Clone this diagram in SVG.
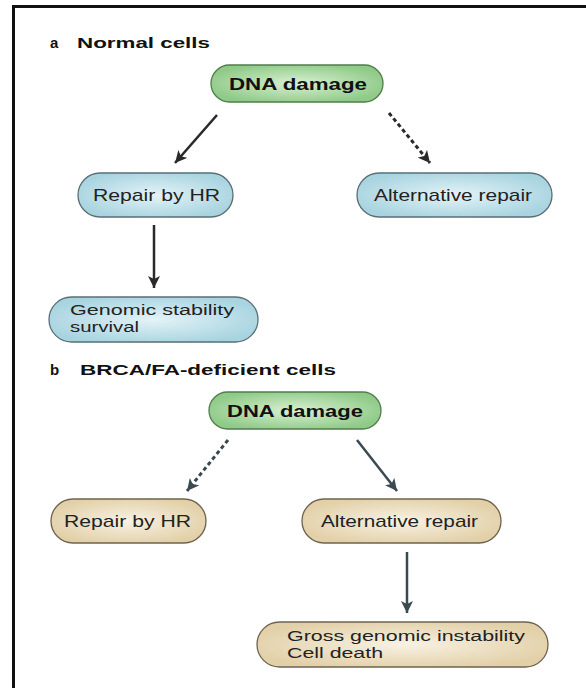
<svg xmlns="http://www.w3.org/2000/svg" width="586" height="688" viewBox="0 0 586 688">
<defs>
<radialGradient id="gGreen" cx="50%" cy="50%" r="55%">
<stop offset="0" stop-color="#d9f0d2"/><stop offset="1" stop-color="#8fca88"/>
</radialGradient>
<radialGradient id="gBlue" cx="50%" cy="50%" r="55%">
<stop offset="0" stop-color="#e4f3f7"/><stop offset="1" stop-color="#a8d4e0"/>
</radialGradient>
<radialGradient id="gTan" cx="50%" cy="50%" r="55%">
<stop offset="0" stop-color="#f8f2e4"/><stop offset="1" stop-color="#e2d0a8"/>
</radialGradient>
<marker id="ahA" markerUnits="userSpaceOnUse" markerWidth="14" markerHeight="12" refX="12" refY="6" orient="auto">
<path d="M0,0 L12,6 L0,12 L3,6 z" fill="#2a2a2a"/>
</marker>
<marker id="ahB" markerUnits="userSpaceOnUse" markerWidth="14" markerHeight="12" refX="12" refY="6" orient="auto">
<path d="M0,0 L12,6 L0,12 L3,6 z" fill="#3b4a51"/>
</marker>
</defs>
<style>
.title{font-family:"Liberation Sans",Arial,sans-serif;font-weight:bold;font-size:15px;fill:#111}
.dna{font-family:"Liberation Sans",Arial,sans-serif;font-weight:bold;font-size:16px;fill:#111}
.lbl{font-family:"Liberation Sans",Arial,sans-serif;font-size:17px;fill:#222}
.lbl2{font-family:"Liberation Sans",Arial,sans-serif;font-size:15.5px;fill:#222}
.green{fill:url(#gGreen);stroke:#4f7d4b;stroke-width:1.3}
.blue{fill:url(#gBlue);stroke:#5b6e75;stroke-width:1.3}
.tan{fill:url(#gTan);stroke:#6e6350;stroke-width:1.3}
.arA{stroke:#2a2a2a;stroke-width:2.5;fill:none;marker-end:url(#ahA)}
.arB{stroke:#3b4a51;stroke-width:2.5;fill:none;marker-end:url(#ahB)}
.dash{stroke-dasharray:4 3;stroke-width:3}
</style>
<rect x="0" y="0" width="586" height="688" fill="#ffffff"/>
<rect x="13.5" y="6.5" width="600" height="700" fill="none" stroke="#111" stroke-width="3"/>

<g id="title-a">
<text class="title" x="50" y="48">a</text>
<text class="title" x="77" y="48" textLength="133" lengthAdjust="spacingAndGlyphs">Normal cells</text>
</g>
<g id="title-b">
<text class="title" x="50" y="375">b</text>
<text class="title" x="80" y="375" textLength="256" lengthAdjust="spacingAndGlyphs">BRCA/FA-deficient cells</text>
</g>

<g id="a-dna">
<rect class="green" x="211" y="65" width="172" height="37" rx="18.5"/>
<text class="dna" x="229" y="90" textLength="138" lengthAdjust="spacingAndGlyphs">DNA damage</text>
</g>
<g id="a-hr">
<rect class="blue" x="78" y="173" width="155" height="44" rx="22"/>
<text class="lbl" x="93" y="201" textLength="127" lengthAdjust="spacingAndGlyphs">Repair by HR</text>
</g>
<g id="a-alt">
<rect class="blue" x="357" y="173" width="195" height="44" rx="22"/>
<text class="lbl" x="374" y="201" textLength="158" lengthAdjust="spacingAndGlyphs">Alternative repair</text>
</g>
<g id="a-genomic">
<rect class="blue" x="49" y="297" width="209" height="45" rx="22.5"/>
<text class="lbl2" x="70" y="315" textLength="164" lengthAdjust="spacingAndGlyphs">Genomic stability</text>
<text class="lbl2" x="70" y="332" textLength="69" lengthAdjust="spacingAndGlyphs">survival</text>
</g>

<g id="b-dna">
<rect class="green" x="209" y="392" width="172" height="37" rx="18.5"/>
<text class="dna" x="227" y="417" textLength="136" lengthAdjust="spacingAndGlyphs">DNA damage</text>
</g>
<g id="b-hr">
<rect class="tan" x="51" y="499" width="155" height="44" rx="22"/>
<text class="lbl" x="64" y="527" textLength="127" lengthAdjust="spacingAndGlyphs">Repair by HR</text>
</g>
<g id="b-alt">
<rect class="tan" x="302" y="499" width="199" height="44" rx="22"/>
<text class="lbl" x="321" y="527" textLength="157" lengthAdjust="spacingAndGlyphs">Alternative repair</text>
</g>
<g id="b-gross">
<rect class="tan" x="257" y="622" width="291" height="45" rx="22.5"/>
<text class="lbl2" x="287" y="641" textLength="238" lengthAdjust="spacingAndGlyphs">Gross genomic instability</text>
<text class="lbl2" x="287" y="658" textLength="96" lengthAdjust="spacingAndGlyphs">Cell death</text>
</g>

<g id="connectors">
<line class="arA" x1="217" y1="115" x2="175" y2="163"/>
<line class="arA dash" x1="389" y1="113" x2="430" y2="163"/>
<line class="arA" x1="154" y1="225" x2="154" y2="288"/>
<line class="arB dash" x1="228" y1="440" x2="187" y2="491"/>
<line class="arB" x1="357" y1="440" x2="397" y2="491"/>
<line class="arB" x1="407" y1="552" x2="407" y2="613"/>
</g>
</svg>
